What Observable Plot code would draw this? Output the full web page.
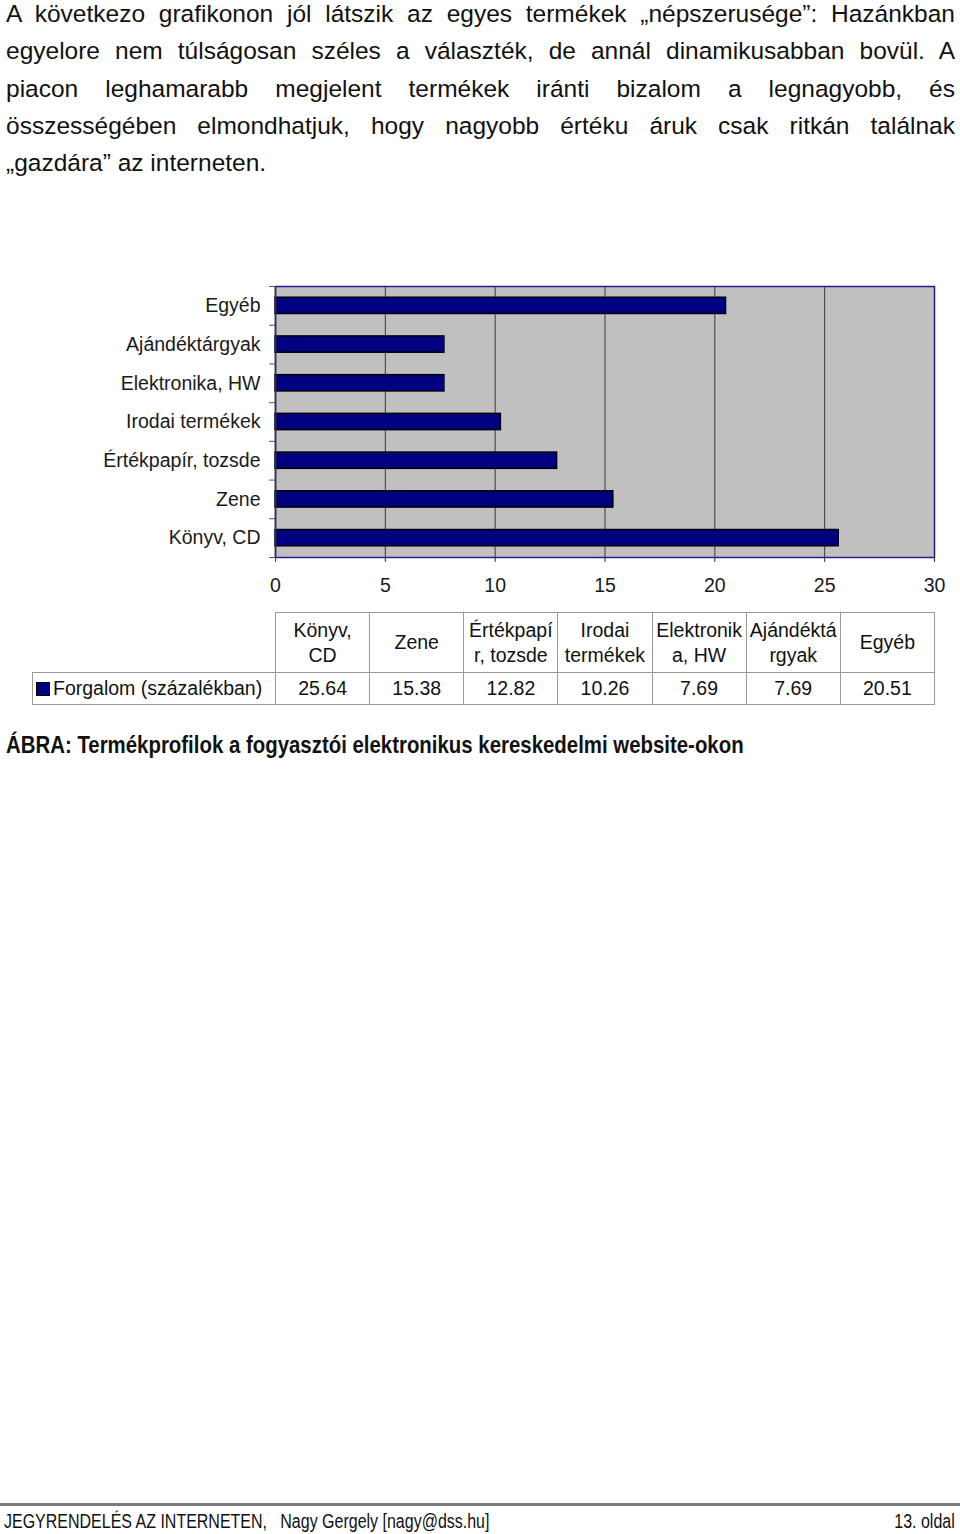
<!DOCTYPE html>
<html>
<head>
<meta charset="utf-8">
<script src="https://cdn.jsdelivr.net/npm/d3@7"></script>
<script src="https://cdn.jsdelivr.net/npm/@observablehq/plot@0.6"></script>
<style>
  html, body { margin: 0; padding: 0; background: #fff; }
  body { width: 960px; height: 1534px; position: relative; overflow: hidden; font-family: "Liberation Sans", Arial, sans-serif; color: #111; }
  #para { position: absolute; left: 6px; top: -5px; width: 949px; font-size: 24.5px; line-height: 37.3px; }
  #para div { text-align: justify; text-align-last: justify; white-space: nowrap; }
  #para div.last { text-align-last: left; }
  #chart { position: absolute; left: 0; top: 270px; }
  #tbl { position: absolute; left: 32px; top: 612px; border-collapse: collapse; table-layout: fixed; width: 903px; font-size: 19.5px; }
  #tbl td { border: 1px solid #9a9a9a; text-align: center; padding: 0; white-space: pre-line; line-height: 25px; }
  #tbl tr.head td { height: 59px; }
  #tbl tr.data td { height: 31px; }
  #tbl td.blank { border: none; border-right: 1px solid #9a9a9a; border-bottom: 1px solid #9a9a9a; }
  #tbl td.lab { text-align: left; padding-left: 3px; white-space: nowrap; }
  .key { display: inline-block; width: 12px; height: 12px; background: #000080; border: 1px solid #000; vertical-align: -1px; margin-right: 3px; }
  #caption { position: absolute; left: 6px; top: 731px; font-weight: bold; font-size: 24px; white-space: nowrap; transform: scaleX(0.85); transform-origin: left top; }
  #footline { position: absolute; left: 0; top: 1503px; width: 960px; height: 3px; background: #7a7a7a; }
  .foot { position: absolute; top: 1510px; font-size: 19.5px; white-space: pre; transform: scaleX(0.82); }
  #footL { left: 4px; transform-origin: left top; }
  #footR { right: 5px; transform-origin: right top; }
</style>
</head>
<body>
<div id="para">
<div>A következo grafikonon jól látszik az egyes termékek „népszerusége”: Hazánkban</div>
<div>egyelore nem túlságosan széles a választék, de annál dinamikusabban bovül. A</div>
<div>piacon leghamarabb megjelent termékek iránti bizalom a legnagyobb, és</div>
<div>összességében elmondhatjuk, hogy nagyobb értéku áruk csak ritkán találnak</div>
<div class="last">„gazdára” az interneten.</div>
</div>
<div id="chart"></div>
<table id="tbl"></table>
<div id="caption">ÁBRA: Termékprofilok a fogyasztói elektronikus kereskedelmi website-okon</div>
<div id="footline"></div>
<div class="foot" id="footL">JEGYRENDELÉS AZ INTERNETEN,   Nagy Gergely [nagy@dss.hu]</div>
<div class="foot" id="footR">13. oldal</div>
<script>
const categories = ["Könyv, CD", "Zene", "Értékpapír, tozsde", "Irodai termékek", "Elektronika, HW", "Ajándéktárgyak", "Egyéb"];
const values = [25.64, 15.38, 12.82, 10.26, 7.69, 7.69, 20.51];
const tableHeaders = ["Könyv,\nCD", "Zene", "Értékpapí\nr, tozsde", "Irodai\ntermékek", "Elektronik\na, HW", "Ajándéktá\nrgyak", "Egyéb"];
const seriesName = "Forgalom (százalékban)";
const xTicks = [0, 5, 10, 15, 20, 25, 30];

const data = categories.map((c, i) => ({c, v: values[i], i}));

const chart = Plot.plot({
  width: 960,
  height: 332,
  marginLeft: 275,
  marginRight: 26,
  marginTop: 16,
  marginBottom: 45,
  x: {domain: [0, 30]},
  y: {domain: [0, categories.length]},
  style: {fontFamily: "'Liberation Sans', Arial, sans-serif", fontSize: "19.5px", color: "#1a1a1a", background: "transparent"},
  marks: [
    Plot.frame({fill: "#c0c0c0", stroke: null}),
    Plot.ruleX(xTicks.slice(1, -1), {stroke: "#3a3a3a", strokeWidth: 1}),
    Plot.rectX(data, {x1: 0, x2: "v", y1: d => d.i + 0.29, y2: d => d.i + 0.71, fill: "#000080", stroke: "#000", strokeWidth: 1.5}),
    Plot.frame({stroke: "#20208c", strokeWidth: 1.5}),
    Plot.ruleX([0], {stroke: "#333", strokeWidth: 1.5}),
    Plot.axisX({ticks: xTicks, tickSize: 5, tickPadding: 16, label: null, stroke: "#333"}),
    Plot.axisY({ticks: d3.range(categories.length + 1), tickSize: 6, tickFormat: () => "", label: null, stroke: "#555"}),
    Plot.axisY({ticks: categories.map((c, i) => i + 0.5), tickSize: 0, tickPadding: 15, tickFormat: t => categories[Math.floor(t)], label: null})
  ]
});
document.getElementById("chart").appendChild(chart);

// data table under the chart
const tbl = document.getElementById("tbl");
const colg = document.createElement("colgroup");
colg.innerHTML = `<col style="width:243px">` + tableHeaders.map(() => `<col style="width:94.14px">`).join("");
tbl.appendChild(colg);
const trh = document.createElement("tr");
trh.className = "head";
trh.innerHTML = `<td class="blank"></td>` + tableHeaders.map(h => `<td>${h}</td>`).join("");
tbl.appendChild(trh);
const trd = document.createElement("tr");
trd.className = "data";
trd.innerHTML = `<td class="lab"><span class="key"></span>${seriesName}</td>` + values.map(v => `<td>${v.toFixed(2)}</td>`).join("");
tbl.appendChild(trd);
</script>
</body>
</html>
